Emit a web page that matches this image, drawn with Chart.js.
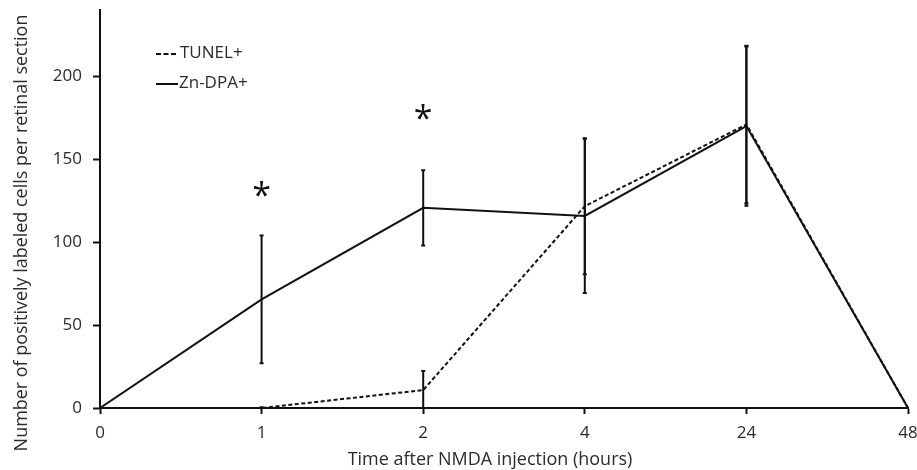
<!DOCTYPE html>
<html><head><meta charset="utf-8">
<script src="https://cdn.jsdelivr.net/npm/chart.js@4.4.1/dist/chart.umd.min.js"></script>
<style>html,body{margin:0;padding:0;background:#fff}#wrap{width:917px;height:470px;position:relative}</style>
</head><body><div id="wrap"><canvas id="c"></canvas></div>
<script>
const categories = ['0', '1', '2', '4', '24', '48'];
const tunelValues = [0, 0, 10.8, 121.7, 171, 0];
const tunelErrors = [0, 0.5, 11.5, 41, 47.5, 0];
const znDpaValues = [0, 65.5, 120.7, 115.8, 170, 0];
const znDpaErrors = [0, 38.5, 22.7, 46.5, 48, 0];
const significance = ['', '*', '*', '', '', ''];
const starLevels = [null, 129, 175, null, null, null];
const yTickValues = [0, 50, 100, 150, 200];
const seriesNames = ['TUNEL+', 'Zn-DPA+'];
const xTitle = 'Time after NMDA injection (hours)';
const yTitle = 'Number of positively labeled cells per retinal section';

const FONT = '"Open Sans", "DejaVu Sans", sans-serif';
const TEXT = '#2b2b2b';

function fitFont(ctx, text, target, base) {
  ctx.font = base + 'px ' + FONT;
  const w = ctx.measureText(text).width;
  return base * target / w;
}

const overlay = {
  id: 'overlay',
  afterDatasetsDraw(chart) {
    const ctx = chart.ctx;
    const x = chart.scales.x, y = chart.scales.y;
    ctx.save();
    // error bars
    const sets = [[tunelValues, tunelErrors], [znDpaValues, znDpaErrors]];
    ctx.strokeStyle = '#111';
    ctx.lineWidth = 2;
    sets.forEach(([vals, errs]) => {
      vals.forEach((v, i) => {
        const e = errs[i];
        if (!e) return;
        const px = x.getPixelForValue(i);
        const top = y.getPixelForValue(v + e);
        const bot = y.getPixelForValue(Math.max(0, v - e));
        ctx.beginPath();
        ctx.moveTo(px, top); ctx.lineTo(px, bot);
        ctx.moveTo(px - 2, top); ctx.lineTo(px + 2, top);
        ctx.moveTo(px - 2, bot); ctx.lineTo(px + 2, bot);
        ctx.stroke();
      });
    });
    // asterisks
    ctx.fillStyle = '#111';
    ctx.font = '34px ' + FONT;
    ctx.textAlign = 'center';
    ctx.textBaseline = 'middle';
    significance.forEach((s, i) => {
      if (!s || starLevels[i] == null) return;
      ctx.fillText(s, x.getPixelForValue(i), y.getPixelForValue(starLevels[i]) + 3);
    });
    // legend
    ctx.font = '17px ' + FONT;
    ctx.textAlign = 'left';
    ctx.fillStyle = TEXT;
    const lx = 156, lw = 22;
    const rows = [53, 83];
    ctx.lineWidth = 2;
    ctx.strokeStyle = '#111';
    ctx.setLineDash([5, 2.5]);
    ctx.beginPath(); ctx.moveTo(lx, rows[0] + 1); ctx.lineTo(lx + lw, rows[0] + 1); ctx.stroke();
    ctx.setLineDash([]);
    ctx.beginPath(); ctx.moveTo(lx, rows[1] + 1); ctx.lineTo(lx + lw, rows[1] + 1); ctx.stroke();
    ctx.fillText(seriesNames[0], lx + lw + 2, rows[0]);
    ctx.fillText(seriesNames[1], lx + lw + 1, rows[1]);
    // axis titles
    ctx.fillStyle = TEXT;
    ctx.textAlign = 'center';
    ctx.textBaseline = 'middle';
    const fx = fitFont(ctx, xTitle, 285, 18);
    ctx.font = fx + 'px ' + FONT;
    ctx.fillText(xTitle, 490, 460);
    const fy = fitFont(ctx, yTitle, 437, 18);
    ctx.font = fy + 'px ' + FONT;
    ctx.translate(22, 233);
    ctx.rotate(-Math.PI / 2);
    ctx.fillText(yTitle, 0, 0);
    ctx.restore();
  }
};

new Chart(document.getElementById('c'), {
  type: 'line',
  data: {
    labels: categories,
    datasets: [
      { label: seriesNames[0], data: tunelValues, borderColor: '#111', borderWidth: 2, borderDash: [4, 2.5], pointRadius: 0, fill: false, tension: 0 },
      { label: seriesNames[1], data: znDpaValues, borderColor: '#111', borderWidth: 2, pointRadius: 0, fill: false, tension: 0 }
    ]
  },
  options: {
    responsive: true,
    maintainAspectRatio: false,
    animation: false,
    layout: { padding: { top: 10, right: 9, left: 0, bottom: 0 } },
    plugins: { legend: { display: false }, tooltip: { enabled: false } },
    scales: {
      x: {
        offset: false,
        grid: { drawOnChartArea: false, drawTicks: true, tickLength: 6, color: '#111', tickWidth: 2 },
        border: { color: '#111', width: 2 },
        ticks: { color: TEXT, font: { family: FONT, size: 17 }, padding: 9, maxRotation: 0 },
        afterFit(s) { s.height = 62; s.paddingLeft = 0; s.paddingRight = 0; }
      },
      y: {
        min: 0, max: 240,
        afterBuildTicks(s) { s.ticks = yTickValues.map(v => ({ value: v })); },
        grid: { drawOnChartArea: false, drawTicks: true, tickLength: 7, color: '#111', tickWidth: 2 },
        border: { color: '#111', width: 2 },
        ticks: { color: TEXT, font: { family: FONT, size: 17 }, padding: 11 },
        afterFit(s) { s.width = 100; s.paddingTop = 0; s.paddingBottom = 0; }
      }
    }
  },
  plugins: [overlay]
});
</script></body></html>
